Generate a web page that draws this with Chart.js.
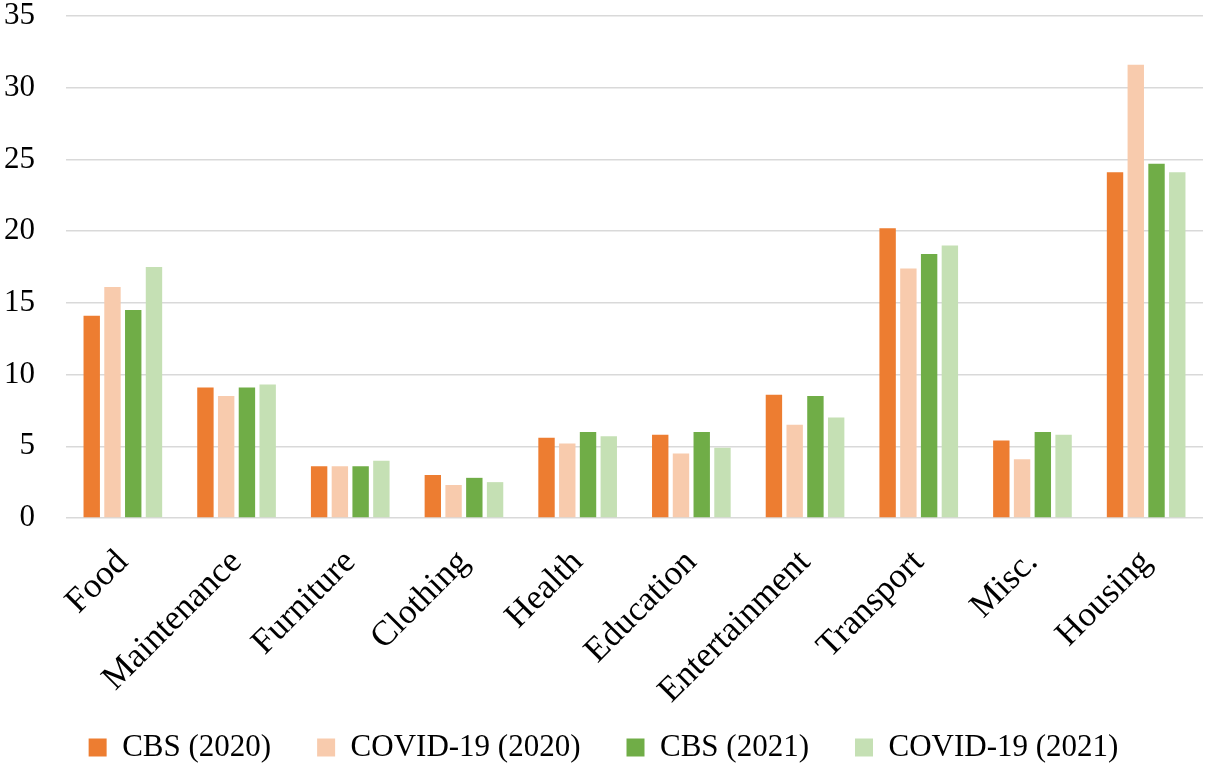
<!DOCTYPE html>
<html>
<head>
<meta charset="utf-8">
<script src="https://cdn.jsdelivr.net/npm/chart.js@4/dist/chart.umd.min.js"></script>
<style>
  html, body { margin: 0; padding: 0; background: #ffffff; }
  #wrap { width: 1205px; height: 765px; position: relative; }
</style>
</head>
<body>
<div id="wrap"><canvas id="chart" width="1205" height="765"></canvas></div>
<script>
// Household spending shares by category (%)
const categories = ['Food', 'Maintenance', 'Furniture', 'Clothing', 'Health', 'Education',
  'Entertainment', 'Transport', 'Misc.', 'Housing'];
const cbs2020   = [14.1, 9.1, 3.6, 3.0, 5.6, 5.8, 8.6, 20.2, 5.4, 24.1];
const covid2020 = [16.1, 8.5, 3.6, 2.3, 5.2, 4.5, 6.5, 17.4, 4.1, 31.6];
const cbs2021   = [14.5, 9.1, 3.6, 2.8, 6.0, 6.0, 8.5, 18.4, 6.0, 24.7];
const covid2021 = [17.5, 9.3, 4.0, 2.5, 5.7, 4.9, 7.0, 19.0, 5.8, 24.1];
const yTicks = [0, 5, 10, 15, 20, 25, 30, 35];

const FONT = '"Liberation Serif", "Times New Roman", serif';

const makeSet = (label, data, color) => ({
  label, data,
  backgroundColor: color,
  borderWidth: 0,
  categoryPercentage: 0.73,
  barPercentage: 0.79
});

new Chart(document.getElementById('chart'), {
  type: 'bar',
  data: {
    labels: categories,
    datasets: [
      makeSet('CBS (2020)', cbs2020, '#ED7D31'),
      makeSet('COVID-19 (2020)', covid2020, '#F8CBAD'),
      makeSet('CBS (2021)', cbs2021, '#70AD47'),
      makeSet('COVID-19 (2021)', covid2021, '#C5E0B4')
    ]
  },
  options: {
    responsive: false,
    animation: false,
    devicePixelRatio: 1,
    layout: { padding: { left: 4, right: 2, top: 2, bottom: -8 } },
    plugins: {
      tooltip: { enabled: false },
      legend: {
        position: 'bottom',
        labels: {
          font: { family: FONT, size: 31 },
          color: '#000000',
          boxWidth: 18,
          boxHeight: 18,
          padding: 46
        }
      }
    },
    scales: {
      x: {
        // fixed band for the slanted category names; let them run into the legend's top margin
        afterFit: (axis) => {
          axis.height = 168;
          axis._computeLabelArea = () => ({ top: axis.top, left: 0, bottom: axis.chart.height, right: axis.chart.width });
        },
        grid: { display: false, drawTicks: false },
        border: { display: false },
        ticks: {
          font: { family: FONT, size: 35 },
          color: '#000000',
          maxRotation: 45,
          minRotation: 45,
          padding: 24
        }
      },
      y: {
        min: 0,
        max: 35,
        afterBuildTicks: (axis) => { axis.ticks = yTicks.map(v => ({ value: v })); },
        // label column width and vertical end padding
        afterFit: (axis) => { axis.width = 62; axis.paddingTop = 16; axis.paddingBottom = 16; },
        grid: { color: '#D9D9D9', lineWidth: 1.5, drawTicks: false },
        border: { display: false },
        ticks: {
          font: { family: FONT, size: 31 },
          color: '#000000',
          padding: 31
        }
      }
    }
  }
});
</script>
</body>
</html>
